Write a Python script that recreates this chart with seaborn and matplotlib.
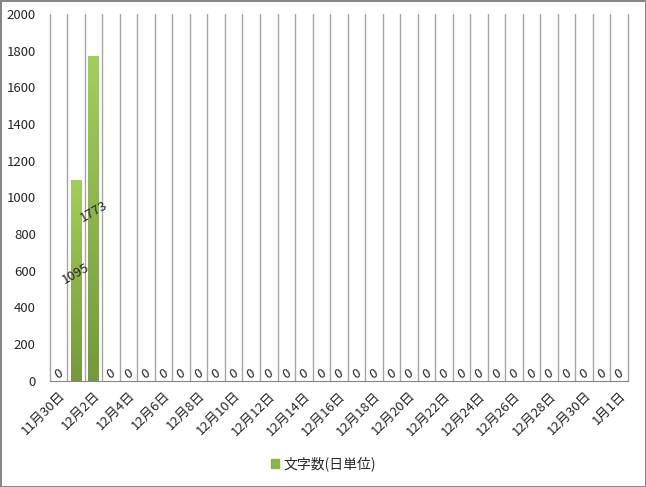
import matplotlib
matplotlib.use("Agg")
import matplotlib.pyplot as plt
import matplotlib.colors as mcolors
import numpy as np
import pandas as pd
import seaborn as sns

# daily character counts, 11/30 .. 1/1
days = ["11月30日"] + [f"12月{d}日" for d in range(1, 32)] + ["1月1日"]
counts = [0, 1095, 1773, 0, 0, 0, 0, 0, 0, 0, 0,
          0, 0, 0, 0, 0, 0, 0, 0, 0, 0, 0,
          0, 0, 0, 0, 0, 0, 0, 0, 0, 0, 0]
series_name = "文字数(日単位)"

df = pd.DataFrame({"day": days, "count": counts})

sns.set_style("white")
plt.rcParams['font.family'] = ['Noto Sans CJK JP', 'DejaVu Sans']

fig = plt.figure(figsize=(6.46, 4.87), dpi=100)
fig.patch.set_edgecolor("#868686")
fig.patch.set_linewidth(2)
ax = fig.add_axes([0.077, 0.218, 0.895, 0.753])

sns.barplot(data=df, x="day", y="count", color="#8AB446", width=0.62, ax=ax,
            saturation=1, zorder=3)

# gradient fill on bars
cmap = mcolors.LinearSegmentedColormap.from_list("g", ["#749A39", "#A2CF5B"])
grad = np.linspace(0, 1, 256).reshape(-1, 1)
for p in ax.patches:
    h = p.get_height()
    if h <= 0:
        continue
    x0 = p.get_x()
    im = ax.imshow(grad, cmap=cmap, origin="lower", aspect="auto",
                   extent=[x0, x0 + p.get_width(), 0, h], zorder=3)
    im.set_clip_path(p)
    p.set_facecolor("none")
    p.set_edgecolor("none")

n = len(days)
ax.set_xlim(-0.5, n - 0.5)
ax.set_ylim(0, 2000)
ax.set_yticks(range(0, 2001, 200))
ax.tick_params(axis="y", labelsize=9.5, length=0, pad=10)

ax.set_xticks(range(0, n, 2))
ax.set_xticklabels(days[::2], rotation=45, ha="right", rotation_mode="anchor", fontsize=9.5)
ax.tick_params(axis="x", length=0, pad=6)
# category boundary lines
for b in np.arange(-0.5, n, 1):
    ax.axvline(b, color="#A6A6A6", linewidth=1, zorder=0, clip_on=False)
ax.set_xlabel("")
ax.set_ylabel("")

for s in ["top", "right", "left"]:
    ax.spines[s].set_visible(False)
ax.spines["bottom"].set_color("#868686")

# data labels
for i, v in enumerate(counts):
    ax.annotate(str(v), (i, v / 2), xytext=(0, 5), textcoords="offset points",
                ha="center", va="center", rotation=30, fontsize=9.5, zorder=5)

handle = plt.Rectangle((0, 0), 1, 1, color="#8AB446")
fig.legend([handle], [series_name], loc="center", bbox_to_anchor=(0.5, 0.047),
           frameon=False, fontsize=10, handlelength=0.6, handleheight=0.6,
           handletextpad=0.3)

fig.savefig("out.png", dpi=100, edgecolor=fig.get_edgecolor())
